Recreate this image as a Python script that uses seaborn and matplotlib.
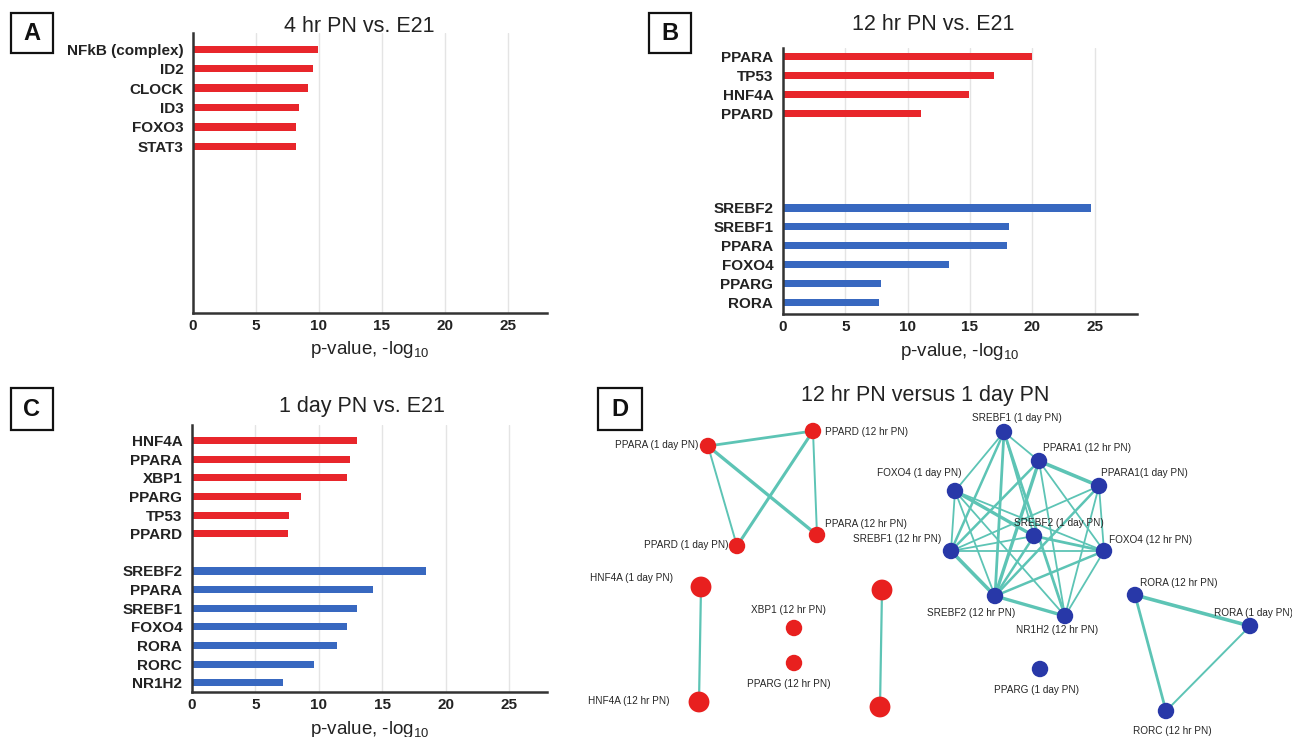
import matplotlib
matplotlib.use("Agg")
import matplotlib.pyplot as plt
from matplotlib.patches import Rectangle
import pandas as pd
import seaborn as sns

sns.set_theme(style="white")
plt.rcParams["font.family"] = ["Liberation Sans", "DejaVu Sans"]
plt.rcParams["mathtext.fontset"] = "custom"
plt.rcParams["mathtext.rm"] = "Liberation Sans"
plt.rcParams["mathtext.default"] = "rm"

RED = "#E8262B"
BLUE = "#3868C0"
NODE_RED = "#E8201F"
NODE_BLUE = "#2838A8"
EDGE = "#5DC4B5"
INK = "#222222"

# ---- upstream regulators, p-value (-log10) ----
a_title = "4 hr PN vs. E21"
a_up_genes = ["NFkB (complex)", "ID2", "CLOCK", "ID3", "FOXO3", "STAT3"]
a_up_vals = [9.9, 9.55, 9.1, 8.45, 8.2, 8.15]
a_down_genes = []
a_down_vals = []

b_title = "12 hr PN vs. E21"
b_up_genes = ["PPARA", "TP53", "HNF4A", "PPARD"]
b_up_vals = [20.0, 16.9, 14.95, 11.1]
b_down_genes = ["SREBF2", "SREBF1", "PPARA", "FOXO4", "PPARG", "RORA"]
b_down_vals = [24.7, 18.15, 18.0, 13.35, 7.9, 7.7]

c_title = "1 day PN vs. E21"
c_up_genes = ["HNF4A", "PPARA", "XBP1", "PPARG", "TP53", "PPARD"]
c_up_vals = [13.05, 12.45, 12.2, 8.6, 7.65, 7.55]
c_down_genes = ["SREBF2", "PPARA", "SREBF1", "FOXO4", "RORA", "RORC", "NR1H2"]
c_down_vals = [18.45, 14.3, 13.0, 12.25, 11.45, 9.6, 7.2]

x_ticks = [0, 5, 10, 15, 20, 25]
x_label = "p-value, -log$_{10}$"

# ---- network of regulators, 12 hr PN versus 1 day PN ----
d_title = "12 hr PN versus 1 day PN"
node_ids = ["PPARA_1d", "PPARD_12h", "PPARD_1d", "PPARA_12h", "HNF4A_1d", "HNF4A_12h",
            "XBP1_12h", "PPARG_12h", "pairA", "pairB",
            "SREBF1_1d", "PPARA1_12h", "PPARA1_1d", "FOXO4_1d", "SREBF2_1d", "SREBF1_12h",
            "FOXO4_12h", "SREBF2_12h", "NR1H2_12h", "PPARG_1d", "RORA_12h", "RORA_1d", "RORC_12h"]
node_labels = ["PPARA (1 day PN)", "PPARD (12 hr PN)", "PPARD (1 day PN)", "PPARA (12 hr PN)",
               "HNF4A (1 day PN)", "HNF4A (12 hr PN)", "XBP1 (12 hr PN)", "PPARG (12 hr PN)", "", "",
               "SREBF1 (1 day PN)", "PPARA1 (12 hr PN)", "PPARA1(1 day PN)", "FOXO4 (1 day PN)",
               "SREBF2 (1 day PN)", "SREBF1 (12 hr PN)", "FOXO4 (12 hr PN)", "SREBF2 (12 hr PN)",
               "NR1H2 (12 hr PN)", "PPARG (1 day PN)", "RORA (12 hr PN)", "RORA (1 day PN)",
               "RORC (12 hr PN)"]
node_dir = ["up"] * 10 + ["down"] * 13
node_kind = ["normal"] * 4 + ["large"] * 2 + ["normal"] * 2 + ["large"] * 2 + ["normal"] * 13
edge_list = [
    ("PPARA_1d", "PPARD_12h", 2.0), ("PPARA_1d", "PPARD_1d", 1.4), ("PPARA_1d", "PPARA_12h", 2.4),
    ("PPARD_12h", "PPARD_1d", 2.2), ("PPARD_12h", "PPARA_12h", 1.4),
    ("HNF4A_1d", "HNF4A_12h", 1.6), ("pairA", "pairB", 1.6),
    ("SREBF1_1d", "PPARA1_12h", 1.3), ("SREBF1_1d", "FOXO4_1d", 1.3), ("SREBF1_1d", "SREBF1_12h", 1.8),
    ("SREBF1_1d", "SREBF2_12h", 2.0), ("SREBF1_1d", "NR1H2_12h", 2.0), ("SREBF1_1d", "SREBF2_1d", 1.3),
    ("PPARA1_12h", "PPARA1_1d", 2.6), ("PPARA1_12h", "SREBF1_12h", 1.8), ("PPARA1_12h", "SREBF2_12h", 2.4),
    ("PPARA1_12h", "FOXO4_12h", 1.3), ("PPARA1_12h", "NR1H2_12h", 1.3),
    ("PPARA1_1d", "SREBF1_12h", 1.3), ("PPARA1_1d", "SREBF2_12h", 1.8), ("PPARA1_1d", "FOXO4_12h", 1.3),
    ("PPARA1_1d", "NR1H2_12h", 1.3),
    ("FOXO4_1d", "SREBF1_12h", 1.3), ("FOXO4_1d", "SREBF2_1d", 2.4), ("FOXO4_1d", "SREBF2_12h", 1.3),
    ("FOXO4_1d", "FOXO4_12h", 1.3), ("FOXO4_1d", "NR1H2_12h", 1.3),
    ("SREBF2_1d", "SREBF1_12h", 1.3), ("SREBF2_1d", "SREBF2_12h", 1.8), ("SREBF2_1d", "FOXO4_12h", 2.0),
    ("SREBF1_12h", "FOXO4_12h", 1.3), ("SREBF1_12h", "SREBF2_12h", 2.6),
    ("SREBF2_12h", "FOXO4_12h", 1.8), ("SREBF2_12h", "NR1H2_12h", 2.4), ("FOXO4_12h", "NR1H2_12h", 1.3),
    ("RORA_12h", "RORA_1d", 2.6), ("RORA_12h", "RORC_12h", 2.0), ("RORA_1d", "RORC_12h", 1.4),
]

# node layout in panel units (x right, y down)
layout = {
    "PPARA_1d": (128, 66), "PPARD_12h": (233, 51), "PPARD_1d": (157, 166), "PPARA_12h": (237, 155),
    "HNF4A_1d": (121, 207), "HNF4A_12h": (119, 322), "XBP1_12h": (214, 248), "PPARG_12h": (214, 283),
    "pairA": (302, 210), "pairB": (300, 327),
    "SREBF1_1d": (424, 52), "PPARA1_12h": (459, 81), "PPARA1_1d": (519, 106), "FOXO4_1d": (375, 111),
    "SREBF2_1d": (454, 156), "SREBF1_12h": (371, 171), "FOXO4_12h": (524, 171),
    "SREBF2_12h": (415, 216), "NR1H2_12h": (485, 236), "PPARG_1d": (460, 289),
    "RORA_12h": (555, 215), "RORA_1d": (670, 246), "RORC_12h": (586, 331),
}
# label anchor (x, y, horizontal alignment) in panel units
label_place = {
    "PPARA_1d": (118, 65, "right"), "PPARD_12h": (245, 52, "left"), "PPARD_1d": (149, 165, "right"),
    "PPARA_12h": (245, 144, "left"), "HNF4A_1d": (93, 198, "right"), "HNF4A_12h": (90, 321, "right"),
    "XBP1_12h": (208, 230, "center"), "PPARG_12h": (209, 304, "center"),
    "SREBF1_1d": (437, 38, "center"), "PPARA1_12h": (463, 68, "left"), "PPARA1_1d": (521, 93, "left"),
    "FOXO4_1d": (339, 93, "center"), "SREBF2_1d": (434, 143, "left"), "SREBF1_12h": (361, 159, "right"),
    "FOXO4_12h": (529, 160, "left"), "SREBF2_12h": (391, 233, "center"), "NR1H2_12h": (477, 250, "center"),
    "PPARG_1d": (456, 310, "center"), "RORA_12h": (560, 203, "left"), "RORA_1d": (673, 233, "center"),
    "RORC_12h": (592, 351, "center"),
}

W, H = 1292, 737
fig = plt.figure(figsize=(W / 100, H / 100), dpi=100)


def rect_px(left, top, right, bottom):
    return [left / W, 1 - bottom / H, (right - left) / W, (bottom - top) / H]


def panel_letter(letter, left, top, right, bottom):
    fig.patches.append(Rectangle((left / W, 1 - bottom / H), (right - left) / W, (bottom - top) / H,
                                 transform=fig.transFigure, fill=False, edgecolor="#111111", lw=1.6))
    fig.text((left + right) / 2 / W, 1 - (top + bottom) / 2 / H, letter, ha="center", va="center",
             fontsize=17, fontweight="bold", color="#111111")


def bar_panel(rect, up_genes, up_vals, down_genes, down_vals, gap, ylim, xmax):
    ax = fig.add_axes(rect)
    n_up = len(up_genes)
    pos = list(range(n_up)) + [n_up + gap + i for i in range(len(down_genes))]
    df = pd.DataFrame({
        "gene": up_genes + down_genes,
        "value": up_vals + down_vals,
        "pos": pos,
        "dir": ["up"] * n_up + ["down"] * len(down_genes),
    })
    pal = {"up": RED, "down": BLUE}
    sns.barplot(data=df, x="value", y="pos", hue="dir", palette=pal, orient="h",
                native_scale=True, width=0.38, dodge=False, errorbar=None, legend=False,
                saturation=1, linewidth=0, ax=ax)
    ax.set_xlim(0, xmax)
    ax.set_ylim(*ylim)
    ax.set_yticks(pos)
    ax.set_yticklabels(df["gene"], fontsize=11, fontweight="bold", color=INK)
    ax.set_xticks(x_ticks)
    ax.set_xticklabels([str(t) for t in x_ticks], fontsize=11, fontweight="bold", color=INK)
    ax.tick_params(axis="both", length=0)
    ax.tick_params(axis="y", pad=7)
    ax.tick_params(axis="x", pad=4)
    ax.set_ylabel("")
    ax.set_xlabel(x_label, fontsize=13.5, color=INK, labelpad=5)
    ax.grid(axis="x", color="#e4e4e4", lw=1.0)
    ax.grid(axis="y", visible=False)
    ax.set_axisbelow(True)
    for s in ("top", "right"):
        ax.spines[s].set_visible(False)
    for s in ("left", "bottom"):
        ax.spines[s].set_color("#333333")
        ax.spines[s].set_linewidth(1.8)
    return ax


# Panel A
bar_panel(rect_px(193, 33, 547, 313), a_up_genes, a_up_vals, a_down_genes, a_down_vals,
          0, (13.59, -0.84), 28.1)
fig.text(359 / W, 1 - 26 / H, a_title, ha="center", va="center", fontsize=15.5, color=INK)
panel_letter("A", 11, 13, 53, 53)

# Panel B
bar_panel(rect_px(783, 48, 1137, 314), b_up_genes, b_up_vals, b_down_genes, b_down_vals,
          4, (13.6, -0.44), 28.4)
fig.text(933 / W, 1 - 25 / H, b_title, ha="center", va="center", fontsize=15.5, color=INK)
panel_letter("B", 649, 13, 691, 53)

# Panel C
bar_panel(rect_px(192, 425, 547, 692), c_up_genes, c_up_vals, c_down_genes, c_down_vals,
          1, (13.5, -0.84), 28.0)
fig.text(362 / W, 1 - 406 / H, c_title, ha="center", va="center", fontsize=15.5, color=INK)
panel_letter("C", 11, 388, 53, 430)

# Panel D: network
ax_d = fig.add_axes(rect_px(580, 380, 1292, 737))
for a, b, w in edge_list:
    (x0, y0), (x1, y1) = layout[a], layout[b]
    ax_d.plot([x0, x1], [y0, y1], color=EDGE, lw=w, solid_capstyle="round", zorder=1)

nodes = pd.DataFrame({
    "id": node_ids,
    "x": [layout[n][0] for n in node_ids],
    "y": [layout[n][1] for n in node_ids],
    "dir": node_dir,
    "kind": node_kind,
})
sns.scatterplot(data=nodes, x="x", y="y", hue="dir", palette={"up": NODE_RED, "down": NODE_BLUE},
                size="kind", sizes={"normal": 140, "large": 225}, linewidth=0, legend=False,
                zorder=3, ax=ax_d)
ax_d.set_xlim(0, 712)
ax_d.set_ylim(357, 0)
ax_d.axis("off")
for nid, lab in zip(node_ids, node_labels):
    if not lab:
        continue
    lx, ly, ha = label_place[nid]
    ax_d.text(lx, ly, lab, ha=ha, va="center", fontsize=7.2, color="#262626", zorder=4, clip_on=False)

fig.text(925 / W, 1 - 395 / H, d_title, ha="center", va="center", fontsize=15.5, color=INK)
panel_letter("D", 598, 388, 642, 430)

fig.savefig("out.png", dpi=100, facecolor="white")
